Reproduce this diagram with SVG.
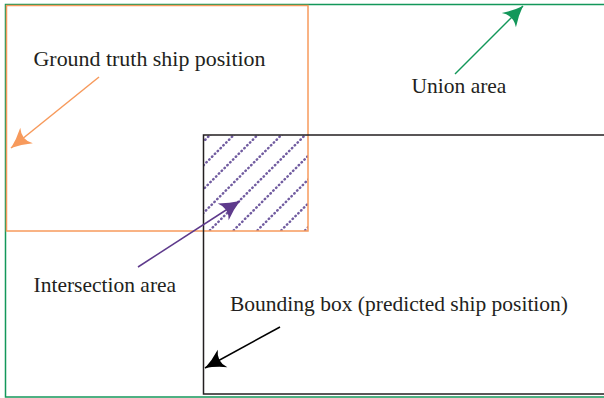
<svg xmlns="http://www.w3.org/2000/svg" width="604" height="398" viewBox="0 0 604 398">
  <style>
    .lbl { font-family: "Liberation Serif", "Times New Roman", serif; font-size: 21.5px; fill: #231f20; }
    .hatch line { stroke: #715ca0; stroke-width: 2.5; stroke-dasharray: 0.4 3.6; stroke-linecap: round; }
  </style>
  <defs>
    <clipPath id="interClip"><rect x="203" y="135" width="105" height="96"/></clipPath>
    <marker id="ahOrange" markerUnits="userSpaceOnUse" markerWidth="26" markerHeight="26" viewBox="-23 -13 26 26" refX="0" refY="0" orient="auto">
      <path d="M0,0 Q-10,-3.5 -20,-10 Q-13,0 -20,10 Q-10,3.5 0,0 Z" fill="#f79a5c"/>
    </marker>
    <marker id="ahGreen" markerUnits="userSpaceOnUse" markerWidth="26" markerHeight="26" viewBox="-23 -13 26 26" refX="0" refY="0" orient="auto">
      <path d="M0,0 Q-10,-3.5 -20,-10 Q-13,0 -20,10 Q-10,3.5 0,0 Z" fill="#13975a"/>
    </marker>
    <marker id="ahPurple" markerUnits="userSpaceOnUse" markerWidth="26" markerHeight="26" viewBox="-23 -13 26 26" refX="0" refY="0" orient="auto">
      <path d="M0,0 Q-10,-3.5 -20,-10 Q-13,0 -20,10 Q-10,3.5 0,0 Z" fill="#5e3a8c"/>
    </marker>
    <marker id="ahBlack" markerUnits="userSpaceOnUse" markerWidth="26" markerHeight="26" viewBox="-23 -13 26 26" refX="0" refY="0" orient="auto">
      <path d="M0,0 Q-10,-3.5 -20,-10 Q-13,0 -20,10 Q-10,3.5 0,0 Z" fill="#000"/>
    </marker>
  </defs>
  <rect width="604" height="398" fill="#fff"/>

  <g id="union">
    <rect x="5.5" y="4.5" width="610" height="392.5" fill="none" stroke="#13975a" stroke-width="1.5"/>
  </g>

  <g id="intersection" class="hatch" clip-path="url(#interClip)">
    <line x1="395" y1="-50" x2="95" y2="250"/>
    <line x1="418.8" y1="-50" x2="118.8" y2="250"/>
    <line x1="442.6" y1="-50" x2="142.6" y2="250"/>
    <line x1="466.4" y1="-50" x2="166.4" y2="250"/>
    <line x1="490.2" y1="-50" x2="190.2" y2="250"/>
    <line x1="514" y1="-50" x2="214" y2="250"/>
    <line x1="537.8" y1="-50" x2="237.8" y2="250"/>
    <line x1="561.6" y1="-50" x2="261.6" y2="250"/>
    <line x1="585.4" y1="-50" x2="285.4" y2="250"/>
  </g>

  <g id="ground-truth">
    <rect x="6.5" y="5.5" width="301.5" height="225.5" fill="none" stroke="#f79a5c" stroke-width="1.5"/>
  </g>

  <g id="bounding-box">
    <rect x="203.5" y="135" width="410" height="259" fill="none" stroke="#231f20" stroke-width="1.5"/>
  </g>

  <g id="connectors" fill="none" stroke-width="1.5">
    <line x1="99" y1="77" x2="11" y2="148" stroke="#f79a5c" marker-end="url(#ahOrange)"/>
    <line x1="455" y1="74" x2="523" y2="6" stroke="#13975a" marker-end="url(#ahGreen)"/>
    <line x1="138" y1="267" x2="240" y2="201" stroke="#5e3a8c" marker-end="url(#ahPurple)"/>
    <line x1="280" y1="327" x2="205" y2="368" stroke="#000" marker-end="url(#ahBlack)"/>
  </g>

  <g id="labels">
    <text class="lbl" x="33.5" y="66" textLength="232" lengthAdjust="spacingAndGlyphs">Ground truth ship position</text>
    <text class="lbl" x="411.5" y="93.3">Union area</text>
    <text class="lbl" x="33.5" y="291.5">Intersection area</text>
    <text class="lbl" x="230" y="311">Bounding box (predicted ship position)</text>
  </g>
</svg>
